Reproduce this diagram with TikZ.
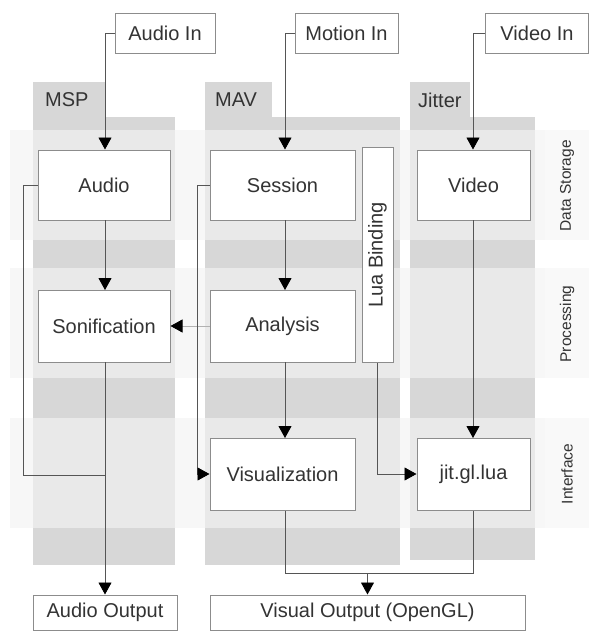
\documentclass[tikz,border=0pt]{standalone}
\usepackage{fontspec}
\setmainfont{Liberation Sans}
\usetikzlibrary{arrows.meta}
\definecolor{colgray}{HTML}{D7D7D7}
\definecolor{bandgray}{HTML}{F2F2F2}
\definecolor{txt}{HTML}{333333}
\definecolor{edge}{HTML}{8C8C8C}
\definecolor{wire}{HTML}{555555}
\tikzset{
  box/.style={draw=edge, line width=1pt, fill=white, text=txt, inner sep=0pt,
    font=\fontsize{20}{24}\selectfont},
  lbl/.style={text=txt, font=\fontsize{20}{24}\selectfont, inner sep=0pt},
  rowlbl/.style={text=txt, font=\fontsize{15.5}{18}\selectfont, inner sep=0pt, rotate=90},
  wire/.style={draw=wire, line width=0.9pt},
  arr/.style={wire, -{Triangle[width=13pt,length=12pt,color=black,fill=black]}},
}
\begin{document}
\begin{tikzpicture}[x=1pt,y=-1pt]
\useasboundingbox (0,0) rectangle (589,633);
% row bands (background)
\foreach \a/\b in {130/240,268/378,418/528}{
  \fill[bandgray] (10,\a) rectangle (589,\b);
}
% columns
\fill[colgray] (33,82) rectangle (105,117);
\fill[colgray] (33,117) rectangle (175,565);
\fill[colgray] (205,82) rectangle (272,117);
\fill[colgray] (205,117) rectangle (400,565);
\fill[colgray] (410,82) rectangle (470,117);
\fill[colgray] (410,117) rectangle (535,560);
% row bands overlay
\foreach \a/\b in {130/240,268/378,418/528}{
  \fill[white, opacity=0.45] (10,\a) rectangle (545,\b);
  \fill[white, opacity=0.6] (545,\a) rectangle (589,\b);
}
% column labels
\node[lbl, anchor=west] (msp) at (45,100) {MSP};
\node[lbl, anchor=west] (mav) at (215,100) {MAV};
\node[lbl, anchor=west] (jit) at (418,100) {Jitter};
% row labels
\node[rowlbl] (ds) at (567,186) {Data Storage};
\node[rowlbl] (pr) at (567,324) {Processing};
\node[rowlbl] (itf) at (567,474) {Interface};
% input boxes
\node[box, minimum width=100pt, minimum height=40pt] (ain) at (165,33) {Audio In};
\node[box, minimum width=103pt, minimum height=40pt] (min) at (346.5,33) {Motion In};
\node[box, minimum width=103pt, minimum height=40pt] (vin) at (537,33) {Video In};
% main boxes
\node[box, minimum width=132pt, minimum height=70pt] (audio) at (104,185) {Audio};
\node[box, minimum width=145pt, minimum height=70pt] (session) at (282.5,185) {Session};
\node[box, minimum width=31pt, minimum height=215pt] (lua) at (377.5,255) {};
\node[lbl, rotate=90] (luat) at (lua.center) {Lua Binding};
\node[box, minimum width=113pt, minimum height=70pt] (video) at (473.5,185) {Video};
\node[box, minimum width=132pt, minimum height=72pt] (son) at (104,326) {Sonification};
\node[box, minimum width=145pt, minimum height=72pt] (ana) at (282.5,326) {Analysis};
\node[box, minimum width=145pt, minimum height=72pt] (vis) at (282.5,474) {Visualization};
\node[box, minimum width=113pt, minimum height=72pt] (jgl) at (473.5,474) {jit.gl.lua};
% outputs
\node[box, minimum width=144pt, minimum height=35pt] (aout) at (105,612.5) {Audio Output};
\node[box, minimum width=315pt, minimum height=35pt] (vout) at (367.5,612.5) {Visual Output (OpenGL)};
% helper coordinates
\coordinate (a1) at (105,33);
\coordinate (m1) at (285,33);
\coordinate (v1) at (473,33);
\coordinate (aL1) at (23,185);
\coordinate (aL2) at (23,475);
\coordinate (aL3) at (105,475);
\coordinate (sL1) at (197,185);
\coordinate (sL2) at (197,474);
\coordinate (lb) at (377,474);
\coordinate (b1) at (285,573);
\coordinate (b2) at (473,573);
\coordinate (bm) at (367.5,573);
% connectors
\draw[arr] (ain.west) -- (a1) -- (a1 |- audio.north);
\draw[arr] (min.west) -- (m1) -- (m1 |- session.north);
\draw[arr] (vin.west) -- (v1) -- (v1 |- video.north);
\draw[arr] (105,220) -- (105,290);
\draw[arr] (105,362) -- (aout.north);
\draw[wire] (audio.west) -- (aL1) -- (aL2) -- (aL3);
\draw[arr] (285,220) -- (285,290);
\draw[arr] (285,362) -- (285,438);
\draw[arr, draw=gray!60] (ana.west) -- (son.east);
\draw[arr] (session.west) -- (sL1) -- (sL2) -- (vis.west);
\draw[arr] (lua.south -| lb) -- (lb) -- (jgl.west);
\draw[arr] (473,220) -- (473,438);
\draw[wire] (b1 |- vis.south) -- (b1) -- (b2) -- (b2 |- jgl.south);
\draw[arr] (bm) -- (vout.north);
\end{tikzpicture}
\end{document}
